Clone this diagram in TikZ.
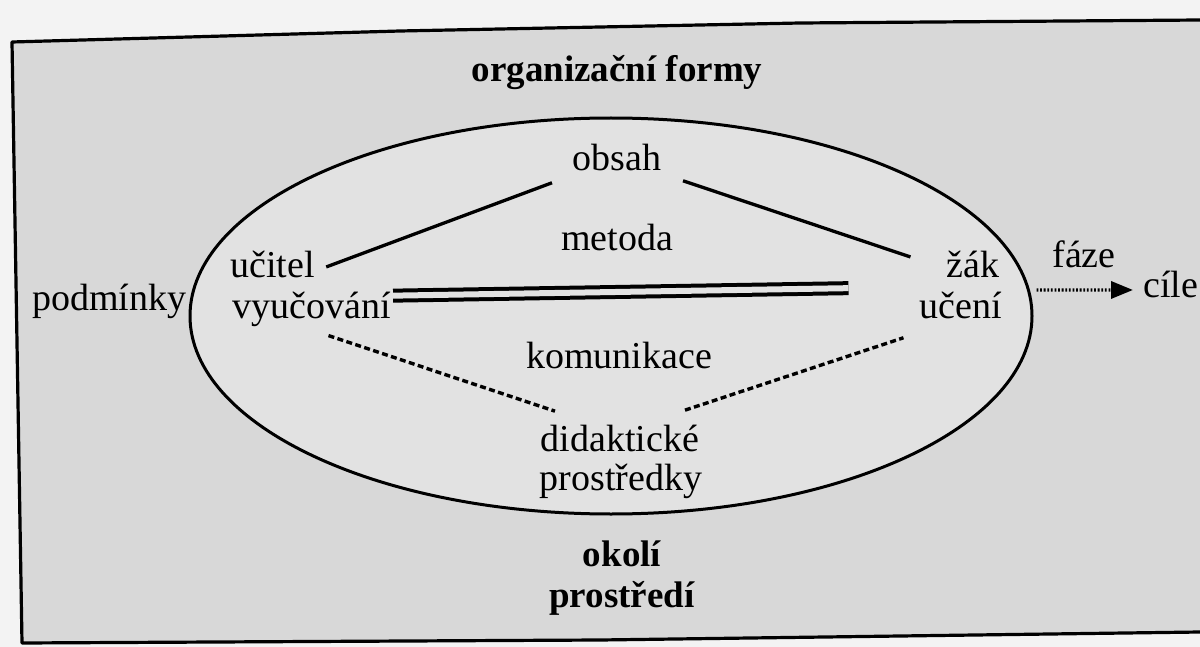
\documentclass[tikz,border=0pt]{standalone}
\usepackage{fontspec}
\setmainfont{Liberation Serif}
\usetikzlibrary{shapes.geometric,arrows.meta}
\definecolor{paper}{HTML}{F3F3F3}
\definecolor{framefill}{HTML}{D8D8D8}
\definecolor{ellfill}{HTML}{E2E2E2}
\begin{document}
\begin{tikzpicture}[x=0.5pt,y=-0.5pt,
  lbl/.style={font=\fontsize{19}{22}\selectfont, inner sep=0pt, anchor=base},
  blbl/.style={font=\fontsize{18.5}{22}\selectfont\bfseries, inner sep=0pt, anchor=base},
  conn/.style={line width=1.65pt},
  dconn/.style={line width=1.7pt, dash pattern=on 3pt off 1.7pt},
  dbl/.style={line width=2pt, double=ellfill, double distance=3pt},
  dotarrow/.style={line width=1.7pt, dash pattern=on 0.9pt off 0.9pt, -{Triangle[length=11pt,width=8.5pt]}},
  ellstyle/.style={draw, ellipse, line width=1.5pt, fill=ellfill, inner sep=0pt, minimum width=421pt, minimum height=198pt}]
\useasboundingbox (0,0) rectangle (1200,647);
\fill[paper] (0,0) rectangle (1200,647);
\fill[framefill] (12,42) -- (400,31) -- (800,23) -- (1200,20) -- (1200,632) -- (600,640) -- (22,643) -- cycle;
\draw[line width=1.6pt, line join=round] (1200,20) -- (800,23) -- (400,31) -- (12,42) -- (22,643) -- (600,640) -- (1200,632);

\node[ellstyle] (ell) at (611,316) {};

\node[blbl] (title) at (617,82) {organizační formy};
\node[lbl] (obsah) at (617,170) {obsah};
\node[lbl] (metoda) at (617,250) {metoda};
\node[lbl, anchor=base west] (ucitel) at (230,278) {učitel};
\node[lbl, anchor=base west] (vyuc) at (232,318) {vyučování};
\node[lbl, anchor=base east] (zak) at (1000,277) {žák};
\node[lbl, anchor=base east] (uceni) at (1002,318) {učení};
\node[lbl] (komun) at (619,368) {komunikace};
\node[lbl] (didak) at (620,451) {didaktické};
\node[lbl] (prostr) at (621,490) {prostředky};
\node[blbl] (okoli) at (622,566) {okolí};
\node[blbl] (prostredi) at (622,607) {prostředí};
\node[lbl, anchor=base west] (podminky) at (32,310) {podmínky};
\node[lbl] (faze) at (1084,267) {fáze};
\node[lbl, anchor=base west] (cile) at (1143,297) {cíle};

\draw[conn] ([xshift=5.5pt,yshift=-1pt]ucitel.east) -- ([xshift=-32.5pt,yshift=-6pt]obsah.south);
\draw[conn] ([xshift=33pt,yshift=-5pt]obsah.south) -- ([xshift=-18pt,yshift=3.5pt]zak.west);
\draw[dbl] ([xshift=1pt,yshift=-2.25pt]vyuc.north east) -- ([xshift=-56pt,yshift=1.5pt]uceni.north);
\draw[dconn] ([xshift=8.5pt,yshift=-4.5pt]vyuc.south) -- ([xshift=-32.5pt,yshift=6.5pt]didak.north);
\draw[dconn] ([xshift=32.5pt,yshift=7pt]didak.north) -- ([xshift=-28.5pt,yshift=-9.5pt]uceni.south);
\draw[dotarrow] ([xshift=1.5pt,yshift=13pt]ell.east) -- ([xshift=-5pt,yshift=-3pt]cile.west);
\end{tikzpicture}
\end{document}
